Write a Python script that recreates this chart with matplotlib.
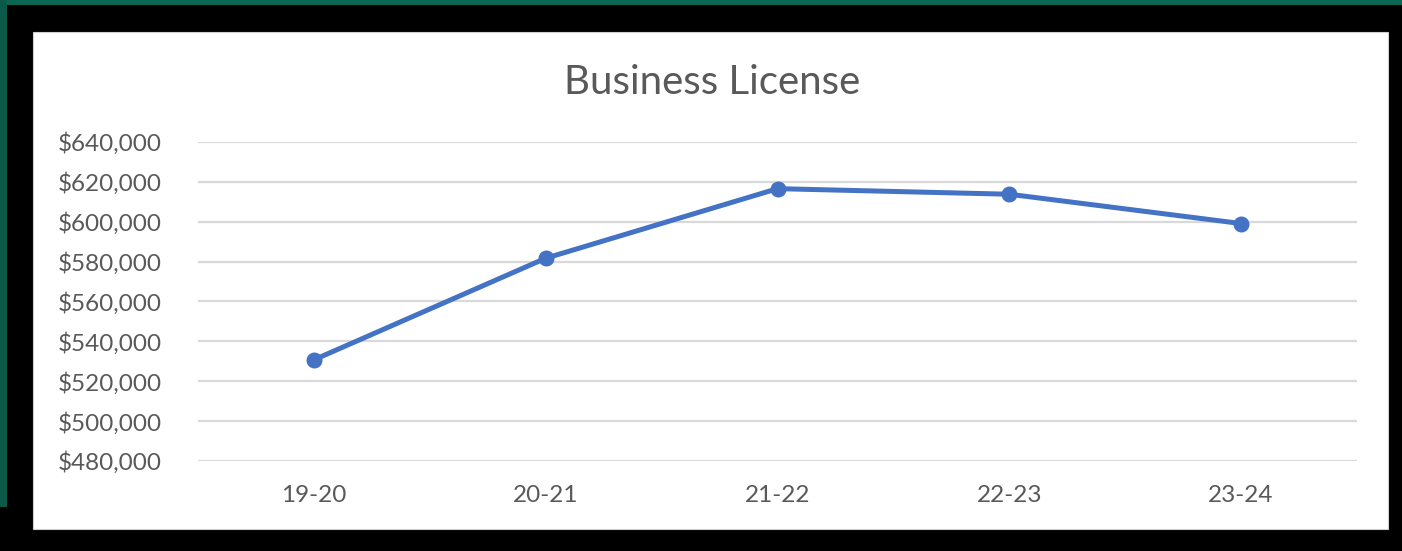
import matplotlib.pyplot as plt
import matplotlib.patches as patches
from matplotlib.ticker import FuncFormatter

years = ['19-20', '20-21', '21-22', '22-23', '23-24']
revenue = [530750, 581700, 616600, 613800, 599100]
yticks = [480000, 500000, 520000, 540000, 560000, 580000, 600000, 620000, 640000]

plt.rcParams['font.family'] = ['Lato', 'DejaVu Sans']

fig = plt.figure(figsize=(14.02, 5.51), dpi=100)
fig.patch.set_facecolor('black')

# green background peeking out at the top and left of the screenshot
fig.patches.append(patches.Rectangle((0, 1 - 5/551), 1, 5/551, transform=fig.transFigure,
                                     facecolor='#0b6652', edgecolor='none', zorder=-3))
fig.patches.append(patches.Rectangle((0, 0.08), 7/1402, 0.92, transform=fig.transFigure,
                                     facecolor='#0b5a49', edgecolor='none', zorder=-3))
# white chart area
fig.patches.append(patches.Rectangle((33/1402, 22/551), 1355/1402, 497/551, transform=fig.transFigure,
                                     facecolor='white', edgecolor='#d0d0d0', linewidth=0.8, zorder=-2))

ax = fig.add_axes([198/1402, 90/551, 1159/1402, 319/551])
ax.set_facecolor('none')
x = list(range(len(years)))
ax.plot(x, revenue, color='#4472C4', linewidth=3.6, marker='o', markersize=10.5,
        solid_capstyle='round', zorder=3)

ax.set_xlim(-0.5, 4.5)
ax.set_ylim(480000, 640000)
ax.set_yticks(yticks)
ax.set_xticks(x)
ax.set_xticklabels(years)
ax.yaxis.set_major_formatter(FuncFormatter(lambda v, p: '${:,.0f}'.format(v)))
ax.grid(axis='y', color='#d9d9d9', linewidth=1.6)
ax.set_axisbelow(True)
for s in ['top', 'right', 'left', 'bottom']:
    ax.spines[s].set_visible(False)
ax.tick_params(axis='both', length=0, labelsize=17.5, colors='#595959')
ax.tick_params(axis='y', pad=26)
ax.tick_params(axis='x', pad=17)

fig.text(712/1402, 1 - 82/551, 'Business License', ha='center', va='center',
         fontsize=29, color='#595959')

plt.savefig('out.png', dpi=100, facecolor=fig.get_facecolor())
